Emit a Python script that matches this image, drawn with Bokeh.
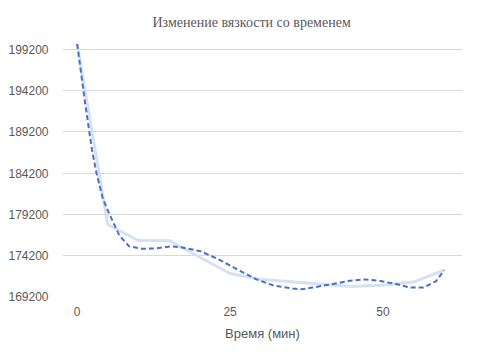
from bokeh.plotting import figure
from bokeh.models import FixedTicker, Range1d, NumeralTickFormatter
from bokeh.embed import file_html
from bokeh.resources import INLINE

# Measured viscosity (solid light line)
time_min = [0, 5, 10, 15, 20, 25, 30, 35, 40, 45, 50, 55, 60]
viscosity = [199880, 177950, 176000, 176000, 174000, 172000, 171280, 171000, 170700, 170400, 170600, 170950, 172400]

# Smoothed trend (dashed line)
trend_time = [0, 1.2, 2.4, 3.15, 4.2, 5.3, 6.9, 8.5, 10.6, 12.8, 15.4, 17, 20.2, 22.9, 26.7, 29.3, 32,
              35.2, 36.8, 38.4, 41.6, 44.3, 47, 49.6, 52.3, 54.4, 56.6, 58.7, 60]
trend_vals = [199880, 193200, 187090, 184200, 181085, 179160, 176600, 175290, 175000, 175050, 175290, 175170,
              174690, 173800, 172290, 171280, 170560, 170160, 170080, 170280, 170680, 171080, 171280, 171080,
              170680, 170280, 170280, 171080, 172400]

x_ticks = [0, 25, 50]
y_ticks = [169200, 174200, 179200, 184200, 189200, 194200, 199200]

p = figure(width=465, height=343, output_backend="svg", toolbar_location=None,
           x_range=Range1d(-2.4, 63), y_range=Range1d(169200, 200780),
           title="Изменение вязкости со временем")
p.min_border_left = 62
p.min_border_right = 3
p.min_border_top = 36
p.min_border_bottom = 47
p.outline_line_color = None

p.title.align = "left"
p.title.offset = 90
p.title.text_font = "Liberation Serif"
p.title.text_font_size = "14px"
p.title.text_font_style = "normal"
p.title.text_color = "#595959"
p.title.standoff = 13

p.line(time_min, viscosity, line_color="#d6e0f2", line_width=3)
p.line(trend_time, trend_vals, line_color="#4472c4", line_width=2, line_dash="5 3")

p.xgrid.grid_line_color = None
p.ygrid.grid_line_color = "#d9d9d9"
p.ygrid.grid_line_width = 1

p.xaxis.ticker = FixedTicker(ticks=x_ticks)
p.yaxis.ticker = FixedTicker(ticks=y_ticks)
p.yaxis.formatter = NumeralTickFormatter(format="0")
for ax in (p.xaxis, p.yaxis):
    ax.axis_line_color = None
    ax.major_tick_line_color = None
    ax.minor_tick_line_color = None
    ax.major_tick_out = 0
    ax.major_tick_in = 0
    ax.major_label_text_font = "Liberation Sans"
    ax.major_label_text_font_size = "12px"
    ax.major_label_text_color = "#595959"
p.yaxis.major_label_standoff = 14
p.xaxis.major_label_standoff = 10
p.xaxis.axis_label = "Время (мин)"
p.xaxis.axis_label_text_font = "Liberation Sans"
p.xaxis.axis_label_text_font_size = "13px"
p.xaxis.axis_label_text_font_style = "normal"
p.xaxis.axis_label_text_color = "#595959"
p.xaxis.axis_label_standoff = 7

open("out.html", "w").write(file_html(p, INLINE))
